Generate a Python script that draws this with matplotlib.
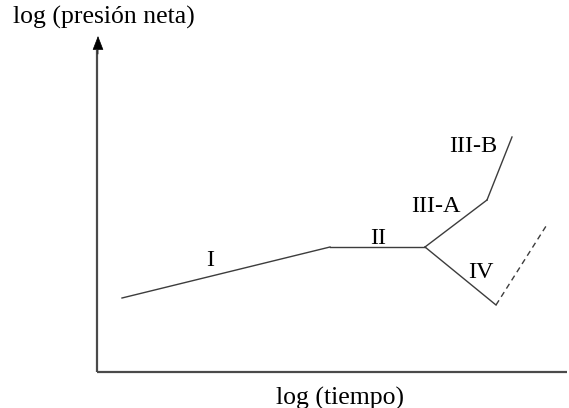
import numpy as np
import matplotlib
matplotlib.use("Agg")
from matplotlib import pyplot as plt

# schematic values (log time, log net pressure), origin at axis corner
seg_I_t = [25, 233]
seg_I_p = [74, 125]
seg_II_t = [233, 328]
seg_II_p = [125, 125]
seg_IIIA_t = [328, 390]
seg_IIIA_p = [125, 172]
seg_IIIB_t = [390, 415]
seg_IIIB_p = [172, 235]
seg_IV_t = [328, 399]
seg_IV_p = [125, 67]
seg_dash_t = [399, 451]
seg_dash_p = [67, 149]

labels = ["I", "II", "III-A", "III-B", "IV"]
label_t = [113, 281, 339, 376, 384]
label_p = [112, 134, 165, 225, 100]

line_col = "#3c3c3c"
font = ["Liberation Serif", "DejaVu Serif"]


def main():
    fig = plt.figure(figsize=(5.69, 4.08), dpi=100)
    ax = fig.add_axes([0, 0, 1, 1])
    ax.set_xlim(-97, 472)
    ax.set_ylim(-36, 372)
    ax.axis("off")

    # axes with arrows
    ax.plot([0, 0], [0, 322], color="#4a4a4a", lw=1.6, solid_capstyle="butt")
    ax.plot([0, 470], [0, 0], color="#4a4a4a", lw=1.6, solid_capstyle="butt")
    ax.annotate("", xy=(1, 336), xytext=(1, 318),
                arrowprops=dict(arrowstyle="-|>,head_length=0.9,head_width=0.35",
                                color="black", lw=0.5, shrinkA=0, shrinkB=0))
    ax.annotate("", xy=(481, 0), xytext=(462, 0),
                arrowprops=dict(arrowstyle="-|>,head_length=0.9,head_width=0.35",
                                color="black", lw=0.5, shrinkA=0, shrinkB=0))

    for t, p in [(seg_I_t, seg_I_p), (seg_II_t, seg_II_p), (seg_IIIA_t, seg_IIIA_p),
                 (seg_IIIB_t, seg_IIIB_p), (seg_IV_t, seg_IV_p)]:
        ax.plot(t, p, color=line_col, lw=1.0)
    ax.plot(seg_dash_t, seg_dash_p, color=line_col, lw=1.0, ls=(0, (4, 3)))

    for lab, t, p in zip(labels, label_t, label_p):
        ax.text(t, p, lab, fontsize=17.5, family=font, ha="center", va="center")

    ax.text(7, 355, "log (presión neta)", fontsize=18.5, family=font,
            ha="center", va="center")
    ax.text(243, -26, "log (tiempo)", fontsize=18.5, family=font,
            ha="center", va="center")

    fig.savefig("out.png", dpi=100)


if __name__ == "__main__":
    main()
